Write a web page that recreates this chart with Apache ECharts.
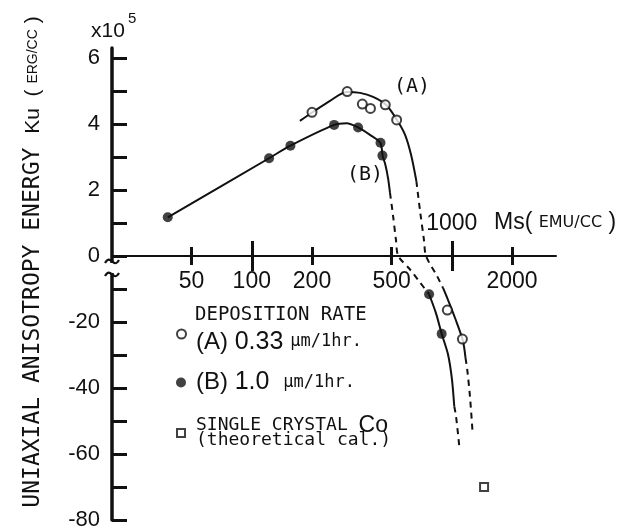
<!DOCTYPE html>
<html><head><meta charset="utf-8">
<script src="https://cdn.jsdelivr.net/npm/echarts@6/dist/echarts.min.js"></script>
<style>html,body{margin:0;padding:0;background:#fff}#c{width:640px;height:530px}</style>
</head><body><div id="c"></div>
<script>
// ---- axis ticks / labels (real units) ----
const xLabelValues = [50, 100, 200, 500, 2000];
const xTopLabelValues = [1000];
const xShortTicks = [50, 200, 500, 2000];
const xLongTicks = [100, 1000];
const yTickValues = [6, 5, 4, 3, 2, 1, 0, -10, -20, -30, -40, -50, -60, -70, -80];
const yLabelValues = [6, 4, 2, 0, -20, -40, -60, -80];

// ---- measured points ----
const msA = [200, 300, 357, 392, 465, 530, 950, 1130];
const kuA = [4.35, 4.98, 4.6, 4.47, 4.58, 4.12, -16.4, -25.2];
const msB = [38, 122, 156, 258, 340, 440, 450, 770, 890];
const kuB = [1.17, 2.96, 3.34, 3.97, 3.89, 3.43, 3.04, -11.6, -23.6];
const msCo = [1450];
const kuCo = [-70];

// ---- fitted curves ----
const curveA1Ms = [174, 202, 246, 299, 348, 404, 469, 532, 584, 626, 665];
const curveA1Ku = [4.09, 4.36, 4.70, 4.97, 4.94, 4.82, 4.58, 4.12, 3.67, 3.06, 2.27];
const curveA2Ms = [665, 693, 726, 743, 844, 904];
const curveA2Ku = [2.27, 1.39, 0.48, 0, -6.1, -9.7];
const curveA3Ms = [904, 957, 1038, 1134, 1171];
const curveA3Ku = [-9.7, -13.3, -18.8, -25.5, -30.9];
const curveA4Ms = [1171, 1195, 1233, 1272];
const curveA4Ku = [-30.9, -34.5, -42.7, -53.9];

const curveB1Ms = [38, 122, 156, 258, 298, 341, 390, 439, 451, 466, 480, 491];
const curveB1Ku = [1.17, 2.96, 3.34, 3.97, 4.02, 3.89, 3.67, 3.43, 3.04, 2.75, 2.36, 1.91];
const curveB2Ms = [491, 508, 526, 540, 618, 693, 770];
const curveB2Ku = [1.91, 1.24, 0.48, 0, -4.1, -8.0, -11.6];
const curveB3Ms = [770, 834, 890, 957, 1002, 1029];
const curveB3Ku = [-11.6, -17.4, -23.6, -29.8, -37.4, -45.6];
const curveB4Ms = [1029, 1050, 1090];
const curveB4Ku = [-45.6, -48.6, -57.7];

// ---- scale helpers: log x, broken y (negative part compressed 10x) ----
const LOG = v => Math.log10(v);
const Y = v => (v >= 0 ? v : v / 10);
const pts = (xs, ys) => xs.map((x, i) => [LOG(x), Y(ys[i])]);

const NARROW = "'Liberation Sans Narrow','Liberation Sans',sans-serif";
const MONO = "'DejaVu Sans Mono',monospace";
const INK = '#111';

const H = 530, GRID_TOP = 48, GRID_BOTTOM = 10, Y_MIN = -8, Y_MAX = 6.3;
// place the x axis at y = 0 (shift up from the grid bottom)
const X_AXIS_OFFSET = -((H - GRID_TOP - GRID_BOTTOM) * (0 - Y_MIN) / (Y_MAX - Y_MIN));

const xBase = {
  type: 'value', min: LOG(20), max: LOG(3300), position: 'bottom', offset: X_AXIS_OFFSET,
  axisLine: { show: true, onZero: false, lineStyle: { color: INK, width: 2 } },
  splitLine: { show: false }
};
const xFmt = v => String(Math.round(Math.pow(10, v)));

function curve(xs, ys, dashed) {
  return {
    type: 'line', data: pts(xs, ys), smooth: 0.3, symbol: 'none', silent: true,
    lineStyle: { color: INK, width: 2, type: dashed ? [6, 5] : 'solid' }, z: 2
  };
}

const chart = echarts.init(document.getElementById('c'), null, { renderer: 'canvas' });
const option = {
  animation: false,
  backgroundColor: '#fff',
  grid: { left: 112, right: 84.5, top: GRID_TOP, bottom: GRID_BOTTOM, containLabel: false, outerBoundsMode: 'none' },
  xAxis: [
    Object.assign({}, xBase, {
      axisTick: { show: true, inside: false, length: 9, lineStyle: { color: INK, width: 3 }, customValues: xShortTicks.map(LOG) },
      axisLabel: { customValues: xLabelValues.map(LOG), formatter: xFmt, margin: 14, fontSize: 23, fontFamily: NARROW, color: INK }
    }),
    Object.assign({}, xBase, {
      axisTick: { show: true, inside: true, length: 9, lineStyle: { color: INK, width: 3 }, customValues: xShortTicks.map(LOG) },
      axisLabel: { inside: true, customValues: xTopLabelValues.map(LOG), formatter: xFmt, margin: 21, fontSize: 23, fontFamily: NARROW, color: INK }
    }),
    Object.assign({}, xBase, {
      axisTick: { show: true, inside: false, length: 15, lineStyle: { color: INK, width: 3 }, customValues: xLongTicks.map(LOG) },
      axisLabel: { show: false }
    }),
    Object.assign({}, xBase, {
      axisTick: { show: true, inside: true, length: 15, lineStyle: { color: INK, width: 3 }, customValues: xLongTicks.map(LOG) },
      axisLabel: { show: false }
    })
  ],
  yAxis: {
    type: 'value', min: Y_MIN, max: Y_MAX,
    axisLine: { show: true, onZero: false, lineStyle: { color: INK, width: 3.5 } },
    axisTick: { show: true, inside: true, length: 15, lineStyle: { color: INK, width: 3 }, customValues: yTickValues.map(Y) },
    axisLabel: {
      customValues: yLabelValues.map(Y),
      formatter: v => String(Math.round(v >= 0 ? v : v * 10)),
      margin: 12, fontSize: 22, fontFamily: NARROW, color: INK
    },
    splitLine: { show: false }
  },
  legend: [
    { data: [{ name: 'A', icon: 'circle' }], orient: 'vertical', left: 176, top: 328.5, padding: 0,
      itemWidth: 9, itemHeight: 9,
      formatter: () => '{p|(A) }{n|0.33 }{u|\u03bcm/1hr.}',
      textStyle: { color: INK, padding: [16, 0, 0, 5], rich: {
        p: { fontFamily: NARROW, fontSize: 24, lineHeight: 22, color: INK },
        n: { fontFamily: NARROW, fontSize: 25, lineHeight: 22, color: INK },
        u: { fontFamily: MONO, fontSize: 17, lineHeight: 22, color: INK } } } },
    { data: [{ name: 'B', icon: 'circle' }], orient: 'vertical', left: 176, top: 370, padding: 0,
      itemWidth: 10, itemHeight: 10,
      formatter: () => '{p|(B) }{n|1.0  }{u|\u03bcm/1hr.}',
      textStyle: { color: INK, padding: [0, 0, 0, 5], rich: {
        p: { fontFamily: NARROW, fontSize: 24, lineHeight: 22, color: INK },
        n: { fontFamily: NARROW, fontSize: 25, lineHeight: 22, color: INK },
        u: { fontFamily: MONO, fontSize: 17, lineHeight: 22, color: INK } } } },
    { data: [{ name: 'Co', icon: 'rect' }], orient: 'vertical', left: 176, top: 414, padding: 0,
      itemWidth: 8, itemHeight: 8,
      formatter: () => '{m|SINGLE CRYSTAL }{c|Co}\n{m|(theoretical cal.)}',
      textStyle: { color: INK, padding: [0, 0, 0, 6], rich: {
        m: { fontFamily: MONO, fontSize: 18, lineHeight: 15, color: INK },
        c: { fontFamily: NARROW, fontSize: 23, lineHeight: 15, color: INK } } } }
  ],
  title: {
    text: 'DEPOSITION RATE', left: 195, top: 306, padding: 0,
    textStyle: { fontFamily: MONO, fontSize: 19, fontWeight: 'normal', color: INK }
  },
  graphic: [
    { type: 'text', x: 33, y: 262, rotation: Math.PI / 2, style: {
      text: '{a|UNIAXIAL ANISOTROPY ENERGY }{k|Ku  ( }{b|ERG/CC}{k| )}',
      align: 'center', verticalAlign: 'middle', fill: INK,
      rich: { a: { fontFamily: MONO, fontSize: 23, fill: INK }, k: { fontFamily: NARROW, fontSize: 21, fill: INK }, b: { fontFamily: NARROW, fontSize: 14, fill: INK } } } },
    { type: 'text', x: 91, y: 31, style: { text: 'x10', font: '21px ' + NARROW, fill: INK, verticalAlign: 'middle' } },
    { type: 'text', x: 128, y: 19, style: { text: '5', font: '15px ' + NARROW, fill: INK, verticalAlign: 'middle' } },
    { type: 'text', x: 412, y: 87, style: { text: '(A)', font: '20px ' + MONO, fill: INK, align: 'center', verticalAlign: 'middle' } },
    { type: 'text', x: 365, y: 175, style: { text: '(B)', font: '20px ' + MONO, fill: INK, align: 'center', verticalAlign: 'middle' } },
    { type: 'text', x: 494, y: 223, style: {
      text: '{a|Ms( }{b|EMU/CC}{a| )}', verticalAlign: 'middle', fill: INK,
      rich: { a: { fontFamily: NARROW, fontSize: 23, fill: INK }, b: { fontFamily: "'DejaVu Sans',sans-serif", fontSize: 16, fill: INK } } } }
  ],
  series: [
    curve(curveA1Ms, curveA1Ku, false),
    curve(curveA2Ms, curveA2Ku, true),
    curve(curveA3Ms, curveA3Ku, false),
    curve(curveA4Ms, curveA4Ku, true),
    curve(curveB1Ms, curveB1Ku, false),
    curve(curveB2Ms, curveB2Ku, true),
    curve(curveB3Ms, curveB3Ku, false),
    curve(curveB4Ms, curveB4Ku, true),
    { name: 'A', type: 'scatter', data: pts(msA, kuA), symbol: 'circle', symbolSize: 9, z: 5,
      itemStyle: { color: '#fff', borderColor: INK, borderWidth: 2 } },
    { name: 'B', type: 'scatter', data: pts(msB, kuB), symbol: 'circle', symbolSize: 10, z: 5,
      itemStyle: { color: INK } },
    { name: 'Co', type: 'scatter', data: pts(msCo, kuCo), symbol: 'rect', symbolSize: 8, z: 5,
      itemStyle: { color: '#fff', borderColor: INK, borderWidth: 2 } }
  ]
};
chart.setOption(option);

// axis-break marks on the y axis just below zero
const px = chart.convertToPixel({ xAxisIndex: 0 }, LOG(20));
const p0 = chart.convertToPixel({ yAxisIndex: 0 }, 0);
const squiggle = dy => ({ type: 'bezierCurve', x: px, y: p0 + dy, z: 100,
  shape: { x1: -7, y1: 2, x2: 7, y2: -1, cpx1: -1, cpy1: -8, cpx2: 1, cpy2: 9 },
  style: { stroke: INK, lineWidth: 2.2, fill: null } });
chart.setOption({ graphic: option.graphic.concat([
  { type: 'rect', x: px - 4, y: p0 + 7, z: 99, shape: { width: 8, height: 10 }, style: { fill: '#fff' } },
  squiggle(5), squiggle(18)
]) });
</script></body></html>
